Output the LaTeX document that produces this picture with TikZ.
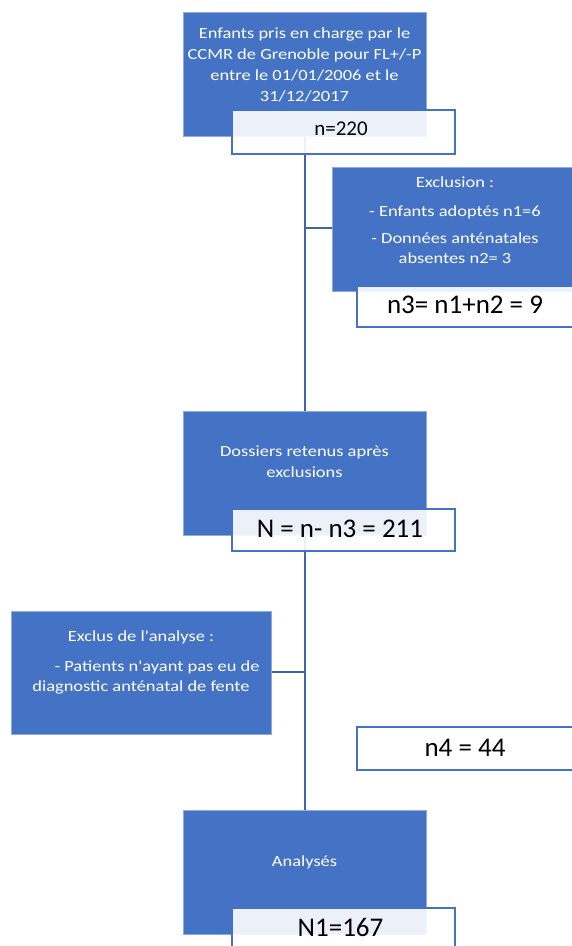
\documentclass[tikz,border=0pt]{standalone}
\usepackage{fontspec}
\setmainfont{Carlito}
\newfontfamily\widefont{Carlito}[FakeStretch=1.19]
\definecolor{bbox}{HTML}{4472C4}
\definecolor{lineblue}{HTML}{3F64AA}
\definecolor{wborder}{HTML}{4472C4}
\begin{document}
\begin{tikzpicture}[x=1pt,y=-1pt,
  bluebox/.style={draw=bbox!60!white, line width=0.6pt, fill=bbox, inner sep=0pt, anchor=north west},
  whitebox/.style={draw=wborder, line width=1.8pt, fill=white, fill opacity=0.9, draw opacity=1, inner sep=0pt, anchor=north west},
  smalltext/.style={text=white, font=\widefont\fontsize{15.5}{20}\selectfont, align=center, inner sep=0pt},
  bigtext/.style={text=black, font=\fontsize{27}{30}\selectfont, inner sep=0pt},
  medtext/.style={text=black, font=\fontsize{21}{24}\selectfont, inner sep=0pt},
  conn/.style={draw=lineblue, line width=1.9pt}]
\useasboundingbox (0,0) rectangle (572,946);

% blue boxes
\node[bluebox, minimum width=243pt, minimum height=124pt] (b1) at (183,12) {};
\node[bluebox, minimum width=245pt, minimum height=124pt] (b2) at (332,167) {};
\node[bluebox, minimum width=243pt, minimum height=124pt] (b3) at (183,411) {};
\node[bluebox, minimum width=260pt, minimum height=123pt] (b4) at (11,611) {};
\node[bluebox, minimum width=243pt, minimum height=124pt] (b5) at (183,810) {};

% texts in blue boxes
\node[smalltext, font=\widefont\fontsize{15.5}{21}\selectfont] (t1) at (304.5,65) {Enfants pris en charge par le\\CCMR de Grenoble pour FL+/-P\\entre le 01/01/2006 et le\\31/12/2017};
\node[smalltext] (t2) at (455,220) {Exclusion :\\[9pt]- Enfants adoptés n1=6\\[7pt]- Données anténatales\\absentes n2= 3};
\node[smalltext, font=\widefont\fontsize{15.5}{21}\selectfont] (t3) at (304.5,462) {Dossiers retenus après\\exclusions};
\node[smalltext] (t4) at (141,662) {Exclus de l'analyse :\\[10pt]\hspace*{32pt}- Patients n'ayant pas eu de\\diagnostic anténatal de fente};
\node[smalltext] (t5) at (304.5,862) {Analysés};

% connectors
\coordinate (j1) at (305,228);
\coordinate (j2) at (305,672);
\draw[conn] (b1.south -| j1) -- (b3.north -| j1);
\draw[conn] (j1) -- (b2.west |- j1);
\draw[conn] (b3.south -| j1) -- (b5.north -| j1);
\draw[conn] (j2) -- (b4.east |- j2);

% white boxes
\node[whitebox, minimum width=223pt, minimum height=44pt] (w1) at (231,109) {};
\node[whitebox, minimum width=230pt, minimum height=41pt] (w2) at (356,285) {};
\node[whitebox, minimum width=223pt, minimum height=42pt] (w3) at (231,508) {};
\node[whitebox, minimum width=230pt, minimum height=43pt] (w4) at (356,726) {};
\node[whitebox, minimum width=223pt, minimum height=50pt] (w5) at (231,907) {};

\node[medtext] (n1) at (341,129) {n=220};
\node[bigtext] (n2) at (465,305) {n3= n1+n2 = 9};
\node[bigtext] (n3) at (340,528.5) {N = n- n3 = 211};
\node[bigtext] (n4) at (465,747.5) {n4 = 44};
\node[bigtext] (n5) at (340.5,927.5) {N1=167};
\end{tikzpicture}
\end{document}
